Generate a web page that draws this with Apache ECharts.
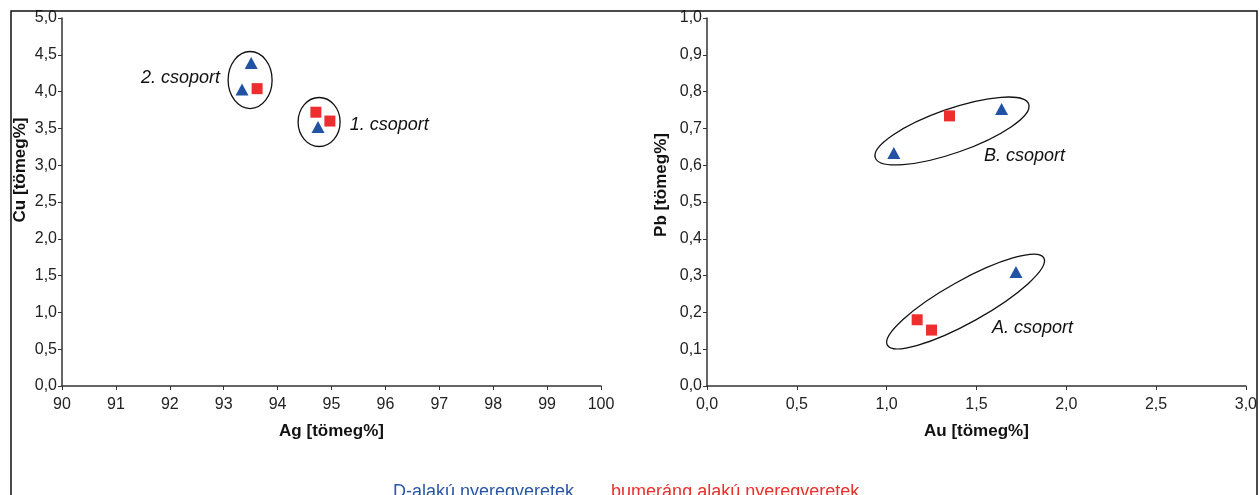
<!DOCTYPE html>
<html><head><meta charset="utf-8">
<script src="https://cdn.jsdelivr.net/npm/echarts@6/dist/echarts.min.js"></script>
<style>html,body{margin:0;padding:0;background:#fff}#c{width:1260px;height:495px}</style>
</head><body><div id="c"></div>
<script>
// Series names
const seriesD = 'D-alakú nyeregveretek';
const seriesB = 'bumeráng alakú nyeregveretek';
// Left chart: Ag vs Cu
const dAgCu = [[93.51, 4.39], [93.34, 4.03], [94.75, 3.52]];
const bAgCu = [[93.62, 4.04], [94.71, 3.72], [94.97, 3.60]];
// Right chart: Au vs Pb
const dAuPb = [[1.04, 0.633], [1.64, 0.753], [1.72, 0.31]];
const bAuPb = [[1.35, 0.734], [1.17, 0.18], [1.25, 0.152]];
// Group annotations: major-axis endpoints in data units
const groupsLeft = [[93.49, 4.545, 93.49, 3.77], [94.77, 3.92, 94.77, 3.254]];
const groupsRight = [[0.937, 0.620, 1.791, 0.766], [1.004, 0.111, 1.875, 0.348]];
const groupLabelsLeft = [[92.93, 4.18, '2. csoport', 'right'], [95.34, 3.55, '1. csoport', 'left']];
const groupLabelsRight = [[1.542, 0.625, 'B. csoport', 'left'], [1.586, 0.158, 'A. csoport', 'left']];
// Axis titles
const xNames = ['Ag [tömeg%]', 'Au [tömeg%]'];
const yNames = ['Cu [tömeg%]', 'Pb [tömeg%]'];

const minorLeft = [22, 21];
const minorRight = [22, 21];
const BLUE = '#2152a3', RED = '#ee2e2e';
const FONT = '"Liberation Sans", Arial, sans-serif';
const comma = v => v.toFixed(1).replace('.', ',');

const axisCommon = {
  axisLine: {show: true, lineStyle: {color: '#333', width: 1.5}},
  axisTick: {show: true, length: 4, lineStyle: {color: '#333', width: 1}},
  splitLine: {show: false},
  axisLabel: {color: '#222', fontSize: 16, fontFamily: FONT},
  nameTextStyle: {color: '#111', fontSize: 17, fontWeight: 'bold', fontFamily: FONT},
  nameLocation: 'middle'
};

function ellipseSeries(idx, data, minors) {
  return {
    type: 'custom', xAxisIndex: idx, yAxisIndex: idx, silent: true, clip: false,
    data: data.map((d, i) => d.concat([minors[i]])),
    encode: {x: 0, y: 1},
    renderItem: function (params, api) {
      const p1 = api.coord([api.value(0), api.value(1)]);
      const p2 = api.coord([api.value(2), api.value(3)]);
      const cx = (p1[0] + p2[0]) / 2, cy = (p1[1] + p2[1]) / 2;
      const a = Math.hypot(p2[0] - p1[0], p2[1] - p1[1]) / 2;
      const ang = Math.atan2(-(p2[1] - p1[1]), p2[0] - p1[0]);
      return {
        type: 'ellipse',
        shape: {cx: cx, cy: cy, rx: a, ry: api.value(4)},
        rotation: ang, originX: cx, originY: cy,
        style: {fill: 'none', stroke: '#111', lineWidth: 1.3}
      };
    }
  };
}
function labelSeries(idx, data) {
  return {
    type: 'custom', xAxisIndex: idx, yAxisIndex: idx, silent: true, clip: false,
    data: data,
    encode: {x: 0, y: 1},
    renderItem: function (params, api) {
      const d = data[params.dataIndex];
      const p = api.coord([d[0], d[1]]);
      return {
        type: 'text', x: p[0], y: p[1],
        style: {text: d[2], fill: '#111', font: 'italic 18px ' + FONT, align: d[3], verticalAlign: 'middle'}
      };
    }
  };
}

const chart = echarts.init(document.getElementById('c'));
chart.setOption({
  backgroundColor: '#fff',
  animation: false,
  grid: [
    {left: 62, right: 659, top: 18, bottom: 109},
    {left: 707, right: 12, top: 18, bottom: 109}
  ],
  xAxis: [
    Object.assign({}, axisCommon, {gridIndex: 0, type: 'value', min: 90, max: 100, interval: 1, name: xNames[0], nameGap: 37,
      axisLabel: Object.assign({}, axisCommon.axisLabel, {formatter: v => String(v), margin: 11})}),
    Object.assign({}, axisCommon, {gridIndex: 1, type: 'value', min: 0, max: 3, interval: 0.5, name: xNames[1], nameGap: 37,
      axisLabel: Object.assign({}, axisCommon.axisLabel, {formatter: comma, margin: 11})})
  ],
  yAxis: [
    Object.assign({}, axisCommon, {gridIndex: 0, type: 'value', min: 0, max: 5, interval: 0.5, name: yNames[0], nameGap: 33,
      nameTextStyle: Object.assign({}, axisCommon.nameTextStyle, {padding: [0, 0, 0, 64]}),
      axisLabel: Object.assign({}, axisCommon.axisLabel, {formatter: comma, margin: 5})}),
    Object.assign({}, axisCommon, {gridIndex: 1, type: 'value', min: 0, max: 1, interval: 0.1, name: yNames[1], nameGap: 37,
      nameTextStyle: Object.assign({}, axisCommon.nameTextStyle, {padding: [0, 0, 0, 34]}),
      axisLabel: Object.assign({}, axisCommon.axisLabel, {formatter: comma, margin: 5})})
  ],
  legend: {
    left: 383, top: 478, itemWidth: 0, itemHeight: 0, itemGap: 32,
    textStyle: {fontSize: 18, fontFamily: FONT},
    data: [
      {name: seriesD, textStyle: {color: '#2a56a8'}},
      {name: seriesB, textStyle: {color: '#e8302c'}}
    ]
  },
  graphic: [{
    type: 'rect', shape: {x: 11, y: 11, width: 1246, height: 520},
    style: {fill: 'none', stroke: '#111', lineWidth: 1.5}, z: 100, silent: true
  }],
  series: [
    ellipseSeries(0, groupsLeft, minorLeft),
    ellipseSeries(1, groupsRight, minorRight),
    labelSeries(0, groupLabelsLeft),
    labelSeries(1, groupLabelsRight),
    {name: seriesD, type: 'scatter', xAxisIndex: 0, yAxisIndex: 0, symbol: 'triangle', symbolSize: [13, 12], itemStyle: {color: BLUE, opacity: 1}, data: dAgCu},
    {name: seriesB, type: 'scatter', xAxisIndex: 0, yAxisIndex: 0, symbol: 'rect', symbolSize: 11, itemStyle: {color: RED, opacity: 1}, data: bAgCu},
    {name: seriesD, type: 'scatter', xAxisIndex: 1, yAxisIndex: 1, symbol: 'triangle', symbolSize: [13, 12], itemStyle: {color: BLUE, opacity: 1}, data: dAuPb},
    {name: seriesB, type: 'scatter', xAxisIndex: 1, yAxisIndex: 1, symbol: 'rect', symbolSize: 11, itemStyle: {color: RED, opacity: 1}, data: bAuPb}
  ]
});
</script></body></html>
